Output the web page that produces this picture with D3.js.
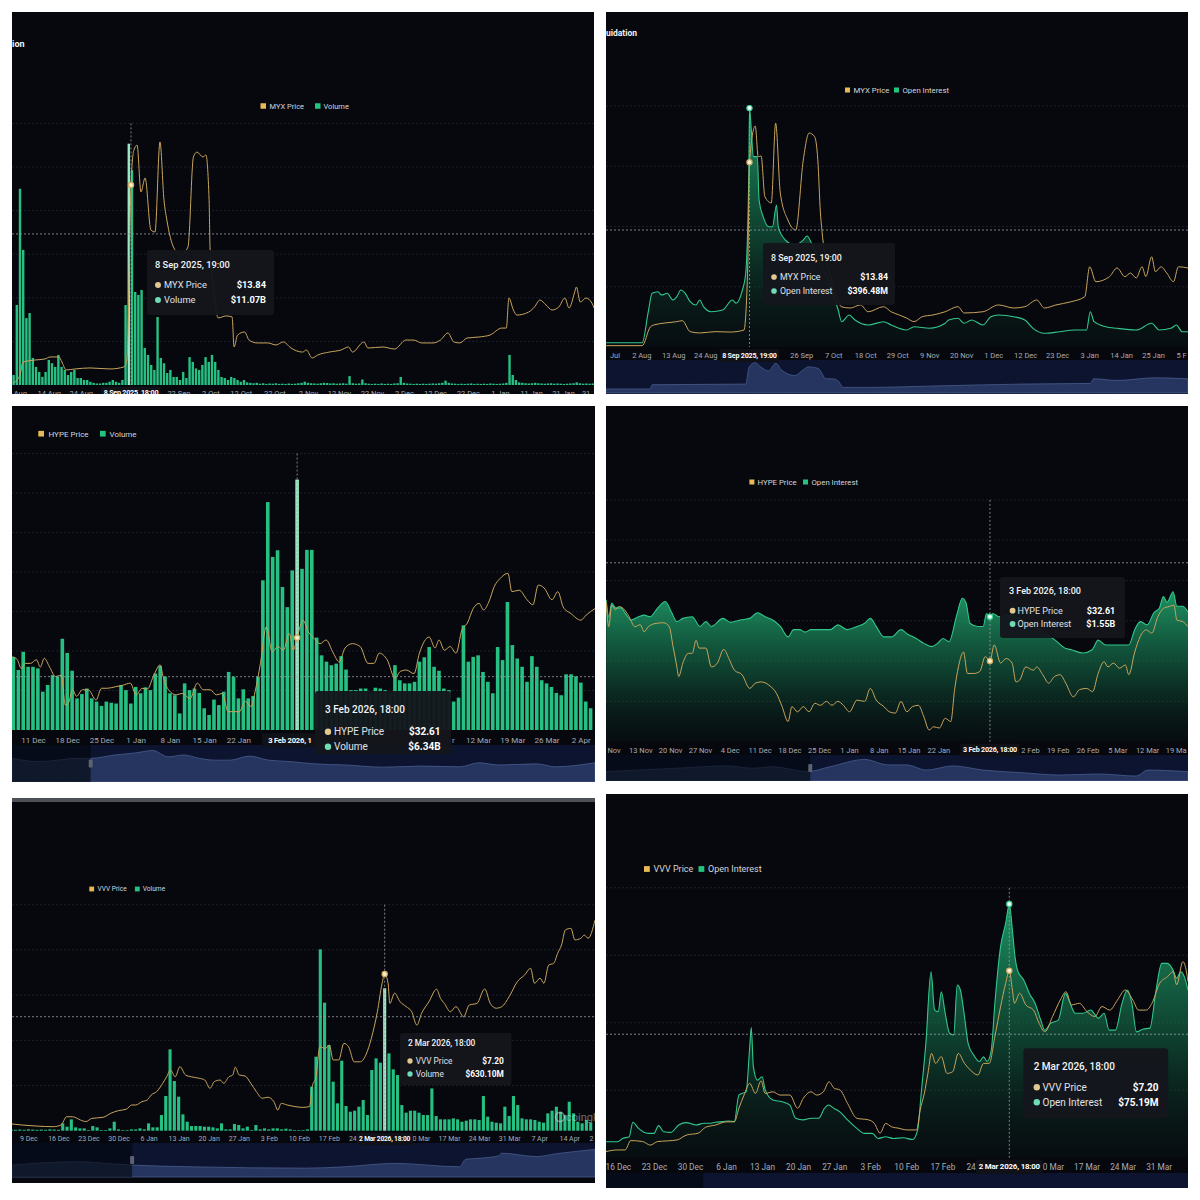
<!DOCTYPE html>
<html><head><meta charset="utf-8">
<script src="https://cdn.jsdelivr.net/npm/d3@7"></script>
<style>
html,body{margin:0;padding:0;background:#fff;}
svg{display:block;font-family:Roboto,"Noto Sans",Arial,sans-serif;}
</style></head><body>
<svg id="c" width="1200" height="1200"></svg>
<script>
// ================= DATA =================
// ---- Panel 1: MYX Price / Volume, daily bars from 3 Aug 2025 (day offset) ----
const p1Volume = [0.46,3.67,9.0,6.2,3.07,3.3,1.24,0.83,0.6,0.37,
0.6,1.15,1.0,0.83,1.38,0.83,0.69,0.46,0.6,0.69,
0.32,0.32,0.23,0.23,0.15,0.1,0.07,0.07,0.1,0.1,
0.15,0.23,0.15,0.1,0.23,3.67,11.07,9.86,4.27,4.13,
4.36,1.7,1.38,0.92,0.69,3.12,1.24,1.0,0.55,0.69,
0.37,0.37,0.23,0.6,0.32,1.28,1.06,0.76,0.69,0.92,
1.28,1.06,1.38,1.06,0.69,0.37,0.32,0.23,0.37,0.32,
0.23,0.15,0.23,0.12,0.1,0.08,0.1,0.06,0.08,0.05,
0.07,0.06,0.08,0.05,0.06,0.05,0.07,0.05,0.06,0.08,
0.1,0.15,0.1,0.08,0.07,0.06,0.08,0.1,0.09,0.07,
0.08,0.06,0.07,0.08,0.06,0.41,0.08,0.06,0.07,0.25,
0.08,0.06,0.05,0.06,0.05,0.07,0.05,0.06,0.05,0.07,
0.08,0.37,0.1,0.07,0.06,0.05,0.06,0.05,0.06,0.05,
0.06,0.07,0.06,0.08,0.1,0.2,0.1,0.07,0.06,0.05,
0.06,0.05,0.06,0.07,0.05,0.06,0.05,0.06,0.05,0.07,
0.06,0.05,0.06,0.07,0.1,1.38,0.46,0.23,0.12,0.1,
0.08,0.07,0.08,0.1,0.08,0.07,0.06,0.07,0.08,0.06,
0.07,0.06,0.05,0.06,0.07,0.08,0.12,0.08,0.06,0.07,
0.06,0.07];
const p1Price = [[0,0.14],[2.0,0.69],[2.9,1.59],[6.7,1.73],[9.8,1.80],[11.4,1.94],[14.2,1.94],[15.1,1.59],[16.4,1.04],[19.2,1.11],[23.9,1.18],[30.1,1.11],[34.5,1.25],[35.4,1.73],[36.7,13.84],[37.6,16.26],[38.6,16.6],[39.8,13.36],[41.1,14.33],[42.9,10.73],[44.2,10.59],[45.75,16.82],[47.0,12.8],[47.9,11.42],[50.1,9.48],[52.3,9.0],[54.5,9.55],[56.2,15.78],[57.3,16.12],[59.2,15.78],[60.1,15.92],[61.1,12.8],[61.4,9.48],[62.6,6.57],[63.9,4.64],[66.4,4.78],[68.3,4.71],[68.9,2.63],[70.0,3.46],[72.2,3.67],[73.6,3.11],[76.1,2.91],[79.5,2.91],[82.0,2.77],[84.3,2.98],[86.7,2.56],[90.3,2.28],[91.5,2.42],[93.3,1.87],[95.1,2.08],[98.7,2.28],[102.3,2.42],[104.7,2.63],[105.9,2.28],[109.5,2.98],[110.75,2.56],[115.4,2.63],[119.1,2.49],[122.6,3.11],[125.1,3.11],[127.5,2.91],[131.1,2.91],[133.4,3.11],[135.75,3.60],[137.6,2.98],[139.5,2.91],[141.7,3.25],[145.4,3.32],[148.9,3.46],[152.6,3.94],[154.0,3.94],[154.8,6.02],[156.2,5.19],[157.3,4.84],[161.0,5.05],[162.8,5.40],[164.5,5.88],[166.4,5.54],[168.3,5.19],[170.4,5.40],[172.3,6.02],[173.6,5.33],[175.3,6.37],[175.9,6.78],[177.1,5.74],[178.9,6.02],[180.75,5.67],[181.4,5.33]];
const p1Ticks = [[1,"4 Aug"],[11,"14 Aug"],[21,"24 Aug"],[51.5,"22 Sep"],[61.5,"2 Oct"],[71,"12 Oct"],[81.5,"22 Oct"],[92,"2 Nov"],[101.7,"12 Nov"],[112,"22 Nov"],[122,"2 Dec"],[131.7,"12 Dec"],[142,"22 Dec"],[152,"1 Jan"],[161.7,"11 Jan"],[171.7,"21 Jan"],[181,"31 Jan"]];
const p1Cursor = {day:36.7, bar:36, label:"8 Sep 2025, 18:00", y:6.93, price:13.84};
const p1Tooltip = {title:"8 Sep 2025, 19:00", rows:[["MYX Price","$13.84"],["Volume","$11.07B"]]};
const p1Legend = ["MYX Price","Volume"];

// ---- Panel 2: MYX Price / Open Interest, day offset from 21 Jul 2025 ----
const p2OI = [[-0.1,7.1],[12.3,7.1],[14.4,58.6],[15.7,89.1],[17.7,91.8],[19.0,86.3],[20.9,89.1],[22.9,78.0],[24.2,83.5],[25.6,94.6],[27.1,89.1],[28.8,75.2],[30.8,69.7],[32.1,78.0],[33.4,66.9],[36.0,58.6],[40.0,61.4],[43.3,78.0],[44.6,72.5],[46.6,91.8],[47.9,122.3],[49.0,299.3],[49.2,396.48],[49.9,355.2],[50.5,315.9],[51.9,315.9],[52.5,244.0],[53.9,216.3],[55.8,199.7],[57.1,199.7],[58.5,235.7],[59.1,199.7],[61.5,177.6],[64.9,169.3],[67.7,177.6],[69.0,184.2],[70.8,169.3],[73.5,141.1],[77.0,102.9],[79.7,61.4],[80.9,42.0],[83.5,53.1],[85.5,44.8],[90.0,36.5],[95.3,42.0],[97.9,36.5],[103.2,28.2],[105.8,33.7],[111.1,31.0],[116.5,39.3],[117.7,44.8],[120.9,47.6],[123.0,39.3],[125.6,44.8],[129.5,36.5],[132.2,50.3],[134.8,53.1],[140.1,50.3],[143.9,44.8],[146.7,31.0],[150.6,22.7],[155.9,25.4],[161.1,28.2],[165.1,28.2],[166.4,58.6],[167.7,42.0],[171.7,33.7],[175.6,31.0],[182.2,28.2],[187.5,39.3],[190.1,28.2],[194.1,31.0],[196.0,36.5],[198.0,25.4],[200.0,25.4]];
const p2Price = [[-0.1,0.1],[12.3,0.1],[15.1,1.50],[16.3,1.65],[24.2,1.90],[26.1,1.97],[28.8,1.15],[32.1,1.05],[37.4,1.15],[42.6,1.12],[47.3,1.27],[48.6,6.01],[49.2,13.84],[51.2,16.55],[52.2,14.25],[53.2,14.31],[54.5,11.26],[56.7,10.79],[58.2,16.76],[59.8,11.54],[62.4,9.51],[65.1,8.76],[67.7,14.01],[69.7,16.03],[71.6,15.75],[72.7,14.01],[73.6,10.04],[74.2,8.54],[76.9,5.39],[79.7,3.52],[80.7,3.02],[83.8,2.92],[87.4,3.15],[90.0,2.64],[95.3,3.02],[97.9,2.64],[100.7,2.40],[103.2,2.17],[105.8,1.90],[108.6,2.27],[112.3,2.40],[116.5,2.64],[120.9,3.02],[123.0,2.55],[129.5,2.64],[134.8,3.15],[140.1,2.92],[143.9,3.02],[148.0,3.52],[150.6,2.92],[154.6,3.15],[159.8,3.39],[164.5,3.77],[166.2,6.01],[168.3,4.89],[173.0,5.27],[175.6,5.92],[178.3,5.27],[180.2,5.54],[182.2,5.17],[184.2,6.01],[185.5,5.27],[187.5,6.76],[188.8,5.64],[190.7,6.01],[192.7,5.54],[195.0,4.89],[196.7,6.01],[200.0,5.92]];
const p2Ticks = [[1,"22 Jul"],[12,"2 Aug"],[23,"13 Aug"],[34,"24 Aug"],[45,"4 Sep"],[56,"15 Sep"],[67,"26 Sep"],[78,"7 Oct"],[89,"18 Oct"],[100,"29 Oct"],[111,"9 Nov"],[122,"20 Nov"],[133,"1 Dec"],[144,"12 Dec"],[155,"23 Dec"],[166,"3 Jan"],[177,"14 Jan"],[188,"25 Jan"],[199,"5 Feb"]];
const p2Nav = [[0,0.12],[0.076,0.12],[0.079,0.25],[0.24,0.27],[0.246,0.79],[0.256,0.92],[0.266,0.79],[0.279,0.67],[0.292,0.90],[0.302,0.69],[0.325,0.53],[0.338,0.69],[0.348,0.79],[0.365,0.74],[0.378,0.43],[0.388,0.43],[0.398,0.38],[0.408,0.17],[0.45,0.17],[0.582,0.22],[0.714,0.27],[0.832,0.29],[0.838,0.43],[0.878,0.38],[0.943,0.46],[1,0.43]];
const p2Cursor = {day:49.2, label:"8 Sep 2025, 19:00", y:194.2, price:13.84, oi:396.48};
const p2Tooltip = {title:"8 Sep 2025, 19:00", rows:[["MYX Price","$13.84"],["Open Interest","$396.48M"]]};
const p2Legend = ["MYX Price","Open Interest"];

// ---- Panel 3: HYPE Price / Volume, daily bars from 7 Dec 2025 ----
const p3Volume = [1.85,1.52,1.98,1.60,1.60,1.56,0.97,1.14,1.39,1.36,
2.31,1.95,1.50,0.80,0.91,1.05,0.80,0.72,0.61,0.72,
0.69,0.67,1.14,1.01,0.67,1.09,0.93,1.08,1.01,1.43,
1.62,1.35,0.93,0.88,0.42,1.18,1.01,1.05,0.94,0.55,
0.38,0.77,0.63,0.97,1.47,1.35,0.80,1.03,0.80,0.86,
1.35,3.79,5.77,4.38,4.55,3.62,3.11,4.04,6.34,4.08,
4.56,4.56,2.34,1.89,1.73,1.64,1.68,1.87,1.53,1.01,
1.01,1.05,1.05,0.93,1.07,1.05,1.01,0.95,1.64,1.26,
1.18,1.18,1.22,1.73,1.84,2.10,1.60,1.50,1.05,1.01,
0.72,0.82,2.65,1.73,1.85,1.89,1.47,1.22,0.93,2.10,
1.77,3.24,2.15,1.81,1.60,1.22,1.87,1.60,1.26,1.18,
1.09,0.94,0.88,1.41,1.41,1.36,1.20,0.72,0.55];
const p3Price = [[-0.2,30.0],[0.8,29.6],[1.6,28.4],[2.4,29.1],[3.5,29.1],[4.7,29.6],[5.5,28.6],[6.3,29.8],[7.4,28.6],[8.6,27.3],[9.8,27.5],[10.6,23.4],[11.2,23.6],[12.1,25.5],[12.9,24.6],[14.1,25.5],[15.3,25.5],[16.9,24.1],[18.0,25.7],[19.2,25.7],[20.8,25.9],[22.3,26.1],[23.9,26.4],[25.1,24.8],[26.3,25.7],[27.4,25.6],[28.6,27.3],[30.0,28.9],[30.6,27.3],[31.7,25.5],[33.3,24.8],[34.5,25.0],[36.1,24.3],[37.6,26.4],[38.8,25.5],[40.2,25.5],[41.5,24.8],[42.7,25.0],[43.9,22.5],[45.1,22.5],[46.2,22.5],[47.4,23.9],[48.6,23.2],[49.4,25.2],[50.5,29.1],[51.7,34.1],[52.9,30.7],[54.1,31.4],[55.2,30.9],[56.4,33.2],[57.2,30.9],[58,32.61],[59.2,35.0],[60.3,33.4],[61.5,32.5],[62.7,31.8],[63.9,32.3],[65.4,30.5],[66.6,29.3],[67.8,31.2],[69.3,31.8],[70.9,31.4],[72.5,29.1],[73.7,29.1],[74.8,30.5],[76.4,29.6],[78.0,27.1],[79.1,28.0],[80.3,28.2],[81.9,27.7],[83.0,30.5],[85.0,32.7],[86.2,31.2],[87.0,32.3],[88.1,30.9],[89.3,31.4],[90.5,30.5],[91.7,33.7],[92.8,34.6],[94.0,36.6],[95.2,37.3],[96.1,36.4],[97.2,37.5],[98.3,39.6],[99.5,40.7],[101.1,41.4],[101.9,38.9],[103.4,39.1],[105.0,37.8],[106.2,37.1],[107.3,39.8],[108.5,39.4],[110.1,37.8],[111.3,38.9],[112.4,36.8],[114.0,35.9],[116.0,35.0],[117.1,35.7],[118.9,36.6]];
const p3Ticks = [[4,"11 Dec"],[11,"18 Dec"],[18,"25 Dec"],[25,"1 Jan"],[32,"8 Jan"],[39,"15 Jan"],[46,"22 Jan"],[53,"29 Jan"],[60,"5 Feb"],[67,"12 Feb"],[74,"19 Feb"],[81,"26 Feb"],[88,"5 Mar"],[95,"12 Mar"],[102,"19 Mar"],[109,"26 Mar"],[116,"2 Apr"]];
const p3Nav = [[0,0.64],[0.045,0.55],[0.078,0.59],[0.11,0.64],[0.135,0.64],[0.177,0.73],[0.209,0.78],[0.242,0.85],[0.268,0.68],[0.295,0.73],[0.321,0.64],[0.348,0.59],[0.374,0.59],[0.407,0.70],[0.44,0.59],[0.479,0.55],[0.518,0.49],[0.571,0.46],[0.637,0.40],[0.702,0.43],[0.768,0.41],[0.801,0.52],[0.834,0.46],[0.9,0.49],[0.932,0.41],[1,0.52]];
const p3Cursor = {day:58, bar:58, label:"3 Feb 2026, 18:00", y:1.35, price:32.61};
const p3Tooltip = {title:"3 Feb 2026, 18:00", rows:[["HYPE Price","$32.61"],["Volume","$6.34B"]]};
const p3Legend = ["HYPE Price","Volume"];

// ---- Panel 4: HYPE Price / Open Interest, day offset from 5 Nov 2025 ----
const p4OI = [[0.0,1.76],[0.6,1.55],[1.3,1.72],[2.2,1.66],[3.5,1.66],[4.5,1.59],[5.8,1.51],[7.6,1.55],[8.9,1.57],[10.3,1.55],[12.1,1.66],[13.9,1.74],[15.3,1.61],[16.6,1.49],[18.0,1.53],[20.2,1.55],[22.0,1.43],[23.4,1.49],[24.7,1.43],[27.4,1.53],[29.2,1.48],[31.4,1.51],[33.7,1.53],[35.5,1.60],[37.3,1.55],[39.1,1.51],[40.9,1.43],[42.7,1.30],[44.0,1.39],[45.4,1.39],[46.7,1.36],[48.1,1.39],[50.3,1.39],[52.6,1.39],[54.4,1.45],[56.6,1.39],[58.9,1.43],[60.7,1.47],[62.0,1.53],[63.4,1.43],[65.2,1.30],[67.0,1.30],[69.2,1.39],[70.6,1.34],[72.8,1.28],[74.6,1.22],[76.4,1.18],[77.8,1.22],[79.1,1.28],[80.5,1.24],[82.3,1.57],[83.6,1.78],[84.5,1.72],[85.4,1.47],[87.2,1.43],[88.5,1.43],[89.3,1.59],[90.1,1.55],[90.8,1.59],[92.2,1.55],[94.9,1.57],[98.4,1.49],[101.9,1.39],[105.4,1.26],[107.8,1.16],[109.2,1.14],[112.0,1.10],[114.1,1.14],[115.5,1.26],[117.3,1.20],[120.0,1.20],[122.7,1.20],[124.1,1.39],[125.4,1.49],[127.0,1.45],[128.6,1.60],[129.9,1.66],[130.8,1.80],[131.7,1.73],[133.1,1.86],[134.0,1.68],[135.3,1.68],[136.6,1.61]];
const p4Price = [[0.0,41.7],[0.6,37.9],[1.3,41.2],[2.2,40.5],[2.9,41.0],[4.0,40.7],[5.4,39.4],[6.7,37.9],[8.0,38.2],[8.9,37.1],[9.9,37.9],[11.7,38.4],[13.5,38.5],[14.8,37.9],[15.7,34.8],[16.6,31.7],[17.0,30.2],[18.0,32.3],[19.3,33.8],[20.2,33.8],[21.1,35.8],[21.8,34.6],[23.4,34.6],[24.7,31.7],[26.1,32.3],[27.6,34.4],[28.8,33.0],[30.1,31.2],[31.9,30.5],[33.7,28.4],[35.0,29.2],[36.4,29.4],[38.2,28.9],[40.0,27.6],[41.3,25.6],[42.7,23.3],[43.6,25.6],[44.9,24.8],[46.3,25.6],[47.6,24.8],[49.0,26.1],[50.3,25.8],[51.7,26.4],[53.0,25.8],[54.4,26.4],[55.7,25.8],[57.1,24.8],[58.9,26.6],[60.7,26.4],[62.0,28.4],[63.4,26.6],[65.2,25.6],[66.5,24.8],[67.9,24.6],[69.2,26.4],[70.6,24.8],[71.9,25.6],[73.3,25.8],[74.6,24.0],[75.8,22.0],[76.9,22.5],[78.2,22.3],[79.6,23.8],[80.9,23.3],[81.8,28.2],[82.7,31.7],[83.9,34.0],[84.8,30.7],[86.3,30.7],[87.7,31.0],[89.0,33.3],[90.1,32.61],[91.1,35.1],[92.6,32.3],[93.9,33.0],[95.3,32.3],[96.2,29.4],[97.1,29.7],[98.5,31.7],[100.3,31.2],[101.1,31.7],[102.5,30.5],[103.9,29.2],[105.2,30.2],[106.6,30.5],[107.9,29.2],[109.7,27.1],[111.1,28.2],[112.8,28.4],[114.2,27.9],[115.5,30.7],[116.9,32.5],[117.8,31.7],[119.1,32.3],[120.5,31.5],[121.9,32.0],[122.7,30.5],[124.1,34.0],[125.4,36.4],[126.8,37.4],[128.1,36.9],[129.5,39.4],[130.8,40.7],[132.2,41.0],[133.3,41.2],[134.0,38.9],[135.3,38.7],[136.6,37.9]];
const p4Ticks = [[1,"6 Nov"],[8,"13 Nov"],[15,"20 Nov"],[22,"27 Nov"],[29,"4 Dec"],[36,"11 Dec"],[43,"18 Dec"],[50,"25 Dec"],[57,"1 Jan"],[64,"8 Jan"],[71,"15 Jan"],[78,"22 Jan"],[85,"29 Jan"],[92,"5 Feb"],[99,"12 Feb"],[106,"19 Feb"],[113,"26 Feb"],[120,"5 Mar"],[127,"12 Mar"],[134,"19 Mar"]];
const p4Nav = [[0,0.36],[0.056,0.42],[0.122,0.49],[0.207,0.58],[0.253,0.49],[0.286,0.55],[0.346,0.36],[0.385,0.55],[0.445,0.83],[0.484,0.62],[0.517,0.62],[0.55,0.42],[0.596,0.58],[0.648,0.42],[0.714,0.32],[0.78,0.23],[0.846,0.27],[0.911,0.19],[0.931,0.42],[0.963,0.40],[1,0.36]];
const p4Cursor = {day:90.1, label:"3 Feb 2026, 18:00", y:2.22, price:32.61, oi:1.55};
const p4Tooltip = {title:"3 Feb 2026, 18:00", rows:[["HYPE Price","$32.61"],["Open Interest","$1.55B"]]};
const p4Legend = ["HYPE Price","Open Interest"];

// ---- Panel 5: VVV Price / Volume, daily bars from 5 Dec 2025 ($M) ----
const p5Volume = [5,4,5,4,6,5,4,5,4,6,
5,4,32.5,17.7,50.2,14.8,10.3,10.3,3,20.7,
14.8,3,3,10.3,39.8,5.9,3,3,5.9,5.9,
10.3,5.9,32.5,14.8,14.8,69.3,153.4,359.9,219.8,150.5,
72.3,39.8,20.7,20.7,20.7,17.7,17.7,14.8,10.3,32.5,
5.9,5.9,29.5,25.1,10.3,17.7,3,25.1,5.9,10.3,
5.9,10.3,10.3,5.9,8.9,5.9,3,3,3,5.9,
194.7,327.5,802.4,566.4,379.1,216.8,121.0,309.8,109.2,84.1,
88.5,106.2,135.7,69.3,268.5,320.1,300.9,630.1,342.2,271.4,
246.3,113.6,79.7,88.5,88.5,79.7,69.3,69.3,187.3,64.9,
50.2,50.2,50.2,54.6,50.2,39.8,44.3,50.2,50.2,47.2,
153.4,62,39.8,35.4,32.5,106.2,64.9,153.4,113.6,54.6,
50.2,50.2,47.2,39.8,35.4,76.7,88.5,106.2,84.1,69.3,
128.3,76.7,39.8,32.5,47.2,35.4];
const p5Price = [[0.2,1.60],[2.7,1.56],[6.2,1.52],[9.8,1.50],[11.6,1.56],[12.9,1.87],[14.3,1.87],[16.1,1.75],[17.4,1.69],[18.8,1.81],[21.4,1.85],[23.2,2.00],[25.0,2.10],[26.8,2.15],[28.1,2.31],[29.0,2.31],[30.4,2.43],[31.7,2.50],[32.6,2.68],[33.9,2.81],[35.3,3.12],[36.2,3.36],[37.1,3.61],[38.2,3.36],[39.3,3.74],[40.6,3.43],[42.0,3.36],[43.7,3.31],[45.1,3.24],[46.3,2.93],[47.3,3.18],[48.7,3.24],[49.5,3.12],[50.7,3.36],[51.6,3.43],[52.2,3.72],[53.1,3.43],[54.5,3.39],[55.8,3.12],[57.1,2.81],[58.5,2.56],[59.8,2.60],[61.2,2.43],[62.1,2.12],[62.9,2.37],[64.3,2.31],[66.1,2.25],[67.9,2.22],[69.5,2.25],[70.1,2.99],[71.0,3.36],[71.9,4.48],[73.2,4.42],[74.1,4.55],[75.0,3.99],[76.3,3.99],[77.5,4.61],[78.6,4.48],[79.9,3.92],[81.3,3.92],[82.6,4.17],[83.9,4.80],[85.3,5.79],[86.4,6.85],[87,7.20],[87.8,6.85],[88.2,6.10],[89.3,6.48],[90.6,6.16],[92.0,5.98],[93.3,5.79],[94.5,5.29],[95.6,5.73],[97.3,6.16],[99.1,6.63],[100.0,6.29],[100.9,6.10],[102.3,5.79],[103.6,5.98],[105.4,5.60],[106.7,6.04],[108.5,6.10],[110.3,6.64],[111.6,6.10],[113.0,5.92],[114.3,5.98],[116.0,6.35],[117.9,6.91],[119.6,7.16],[121.0,7.41],[121.9,6.85],[123.2,7.04],[124.1,6.85],[125.2,7.53],[126.4,7.60],[127.3,7.97],[128.2,8.28],[129.1,8.84],[130.4,8.90],[131.3,8.47],[132.7,8.53],[133.5,8.65],[134.4,8.53],[136.0,9.21]];
const p5Ticks = [[4,"9 Dec"],[11,"16 Dec"],[18,"23 Dec"],[25,"30 Dec"],[32,"6 Jan"],[39,"13 Jan"],[46,"20 Jan"],[53,"27 Jan"],[60,"3 Feb"],[67,"10 Feb"],[74,"17 Feb"],[81,"24 Feb"],[88,"3 Mar"],[95,"10 Mar"],[102,"17 Mar"],[109,"24 Mar"],[116,"31 Mar"],[123,"7 Apr"],[130,"14 Apr"],[137,"21 Apr"]];
const p5Nav = [[0,0.35],[0.11,0.45],[0.177,0.38],[0.206,0.35],[0.308,0.30],[0.505,0.26],[0.571,0.30],[0.656,0.40],[0.768,0.30],[0.778,0.52],[0.801,0.55],[0.834,0.62],[0.84,0.70],[0.9,0.60],[0.932,0.68],[1,0.81]];
const p5Cursor = {day:87, bar:87, label:"2 Mar 2026, 18:00", y:504.4, price:7.20};
const p5Tooltip = {title:"2 Mar 2026, 18:00", rows:[["VVV Price","$7.20"],["Volume","$630.10M"]]};
const p5Legend = ["VVV Price","Volume"];

// ---- Panel 6: VVV Price / Open Interest, day offset from 13 Dec 2025 ($M) ----
const p6OI = [[0.7,4.74],[2.9,4.74],[4.0,5.75],[5.2,6.22],[5.9,10.5],[7.0,8.7],[8.9,7.2],[10.0,7.2],[10.9,9.5],[11.9,7.7],[13.3,7.5],[14.8,9.7],[16.3,10.4],[18.2,9.7],[19.7,10.2],[20.8,10.2],[21.9,10.5],[23.4,10.7],[24.5,10.9],[25.6,10.7],[26.5,18.6],[27.9,19.6],[28.6,32.9],[28.9,38.6],[29.3,27.0],[30.1,23.0],[31.0,24.0],[31.6,20.1],[33.1,17.1],[34.9,16.6],[36.4,15.6],[37.5,11.7],[39.0,11.2],[40.5,11.7],[42.0,11.7],[43.1,14.6],[43.9,15.6],[45.0,14.6],[46.1,13.6],[47.6,11.2],[49.4,8.7],[50.9,7.2],[52.4,7.2],[53.5,5.7],[55.0,6.2],[56.5,5.7],[58.4,5.9],[60.2,5.4],[61.2,8.2],[61.9,19.1],[62.8,33.9],[63.8,55.1],[64.5,43.8],[65.2,43.3],[65.8,49.2],[66.5,43.3],[67.4,36.9],[68.2,36.4],[68.9,51.2],[69.5,49.7],[70.3,41.8],[71.0,33.9],[72.1,30.4],[73.2,28.5],[74.0,29.9],[74.7,28.5],[75.5,31.9],[76.2,45.8],[77.3,62.5],[78.3,69.5],[79,75.19],[79.6,67.5],[80.1,59.6],[80.7,55.1],[81.8,52.7],[82.9,48.7],[84.0,45.8],[85.1,40.8],[85.9,37.8],[87.0,39.8],[88.5,40.8],[89.9,48.7],[90.7,46.2],[91.8,42.8],[93.3,42.8],[94.8,43.8],[96.3,41.3],[97.4,42.8],[98.4,37.8],[99.6,37.8],[100.9,45.8],[101.9,49.7],[102.8,45.8],[103.7,37.3],[104.9,38.1],[106.3,38.4],[107.5,49.7],[108.6,57.6],[109.7,57.6],[110.8,55.6],[111.5,53.2],[112.3,55.1],[113.0,53.6],[113.7,49.7]];
const p6Price = [[0.7,1.60],[2.9,1.65],[4.4,1.65],[5.5,1.94],[7.8,1.91],[9.3,1.80],[10.7,1.91],[12.6,1.93],[14.5,1.96],[16.3,2.11],[18.6,2.17],[20.0,2.35],[21.9,2.42],[24.1,2.52],[25.6,2.52],[26.5,2.94],[27.5,3.35],[28.6,3.71],[29.7,3.40],[30.8,3.79],[31.6,3.40],[33.1,3.45],[34.5,3.35],[36.4,3.35],[37.9,2.94],[39.0,3.25],[40.5,3.45],[41.6,3.35],[42.9,3.45],[44.0,3.76],[45.0,3.56],[46.1,3.51],[47.6,3.09],[49.4,2.63],[51.7,2.58],[52.8,2.47],[53.9,2.17],[55.0,2.47],[56.1,2.37],[57.6,2.32],[59.1,2.27],[61.0,2.27],[61.7,2.89],[62.5,3.40],[63.2,4.02],[63.9,4.64],[64.7,4.33],[65.8,4.54],[66.9,4.02],[68.0,4.07],[69.1,4.64],[70.3,4.33],[71.4,4.13],[72.9,3.97],[74.0,4.33],[75.1,4.33],[76.2,5.16],[77.3,6.08],[78.3,6.81],[79,7.20],[79.6,6.60],[80.0,6.19],[81.0,6.50],[82.2,6.14],[83.7,5.98],[84.8,5.57],[85.9,5.31],[87.4,5.78],[88.9,6.29],[90.0,6.55],[91.1,6.14],[92.6,6.19],[94.1,5.93],[95.6,5.78],[97.0,6.09],[98.5,5.98],[100.0,6.29],[101.5,6.60],[103.0,6.29],[104.1,5.98],[105.6,5.98],[106.7,6.19],[108.2,6.81],[109.7,7.01],[110.8,7.17],[111.5,6.76],[112.7,7.48],[113.4,7.17],[113.7,6.86]];
const p6Ticks = [[3,"16 Dec"],[10,"23 Dec"],[17,"30 Dec"],[24,"6 Jan"],[31,"13 Jan"],[38,"20 Jan"],[45,"27 Jan"],[52,"3 Feb"],[59,"10 Feb"],[66,"17 Feb"],[73,"24 Feb"],[80,"3 Mar"],[87,"10 Mar"],[94,"17 Mar"],[101,"24 Mar"],[108,"31 Mar"],[115,"7 Apr"]];
const p6Cursor = {day:79, label:"2 Mar 2026, 18:00", y:36.6, price:7.20, oi:75.19};
const p6Tooltip = {title:"2 Mar 2026, 18:00", rows:[["VVV Price","$7.20"],["Open Interest","$75.19M"]]};
const p6Legend = ["VVV Price","Open Interest"];

// ================= STYLE / LAYOUT =================
const BG = "#06080e", GRID = "#222632", AXIS = "#a7acb6", GREEN = "#27c083", GOLD = "#c9a45c";
const svg = d3.select("#c");
const defs = svg.append("defs");

// Trim a text element to the part that is not hidden behind obstacles (x-intervals in page coords).
function fitText(node, obst, offset) {
  const t = d3.select(node);
  const str = t.text();
  const n = str.length;
  const bb = node.getBBox();
  const L0 = bb.x + offset;
  const pos = [0];
  for (let k = 1; k <= n; k++) pos.push(node.getSubStringLength(0, k));
  let lo = L0, hi = L0 + pos[n];
  for (const [a, b] of obst) {
    if (b <= lo || a >= hi) continue;
    if (a <= lo && b >= hi) { t.remove(); return; }
    if (a > lo && b >= hi) hi = a;
    else if (a <= lo && b < hi) lo = b;
    else { if (a - lo > hi - b) hi = a; else lo = b; }
  }
  let first = -1, last = -1;
  for (let k = 0; k < n; k++) {
    const s = L0 + pos[k], e = L0 + pos[k + 1];
    if (s >= lo - 0.8 && e <= hi + 0.8) { if (first < 0) first = k; last = k; }
  }
  if (first < 0) { t.remove(); return; }
  if (first === 0 && last === n - 1) return;
  const sub = str.slice(first, last + 1);
  if (!sub.trim()) { t.remove(); return; }
  const lead = sub.length - sub.trimStart().length;
  t.text(sub.trim()).attr("text-anchor", "start").attr("x", L0 + pos[first + lead] - offset);
}

function drawPanel(L, D) {
  const clipId = "clip" + L.id;
  defs.append("clipPath").attr("id", clipId).append("rect")
    .attr("x", L.x0).attr("y", L.y0).attr("width", L.x1 - L.x0).attr("height", L.y1 - L.y0);
  const g = svg.append("g").attr("clip-path", `url(#${clipId})`);
  g.append("rect").attr("x", L.x0).attr("y", L.y0).attr("width", L.x1 - L.x0).attr("height", L.y1 - L.y0).attr("fill", BG);
  if (L.stripe) g.append("rect").attr("x", L.x0).attr("y", L.y0).attr("width", L.x1 - L.x0).attr("height", 4).attr("fill", "#4d5057");

  const x = d3.scaleLinear().domain(L.xDomain).range([L.x0, L.x1]);
  const y = d3.scaleLinear().domain(L.yDomain).range([L.base, L.yTop]);
  const yp = d3.scaleLinear().domain(L.pDomain).range([L.base, L.pTop]);
  const edges = [[-1e4, L.x0], [L.x1, 1e4]];

  if (L.title) g.append("text").attr("x", L.title.x).attr("y", L.title.y).attr("dy", "0.35em")
    .attr("fill", "#f2f3f5").attr("font-weight", 700).attr("font-size", L.title.fs).text(L.title.text);

  // grid
  g.append("g").selectAll("line").data(y.ticks(L.gridN).filter(v => v > 0)).join("line")
    .attr("x1", L.x0).attr("x2", L.x1).attr("y1", d => y(d)).attr("y2", d => y(d))
    .attr("stroke", GRID).attr("stroke-width", 0.8).attr("stroke-dasharray", "2,2");

  // legend
  const lg = g.append("g");
  D.legend.forEach((name, i) => {
    const [sx, tx] = L.legend.pos[i];
    lg.append("rect").attr("x", sx).attr("y", L.legend.y - L.legend.sq / 2).attr("width", L.legend.sq).attr("height", L.legend.sq)
      .attr("fill", i === 0 ? "#e8b954" : "#22c47f");
    lg.append("text").attr("x", tx).attr("y", L.legend.y).attr("dy", "0.35em").attr("font-size", L.legend.fs)
      .attr("fill", "#d3d6dc").text(name);
  });

  // navigator
  if (L.nav) {
    const nx = d3.scaleLinear().domain([0, 1]).range([L.x0, L.x1]);
    const ny = d3.scaleLinear().domain([0, 1]).range([L.nav.y1, L.nav.y0]);
    g.append("rect").attr("x", L.x0).attr("y", L.nav.y0).attr("width", L.x1 - L.x0).attr("height", L.nav.y1 - L.nav.y0).attr("fill", "#0c1430");
    if (D.nav) {
      g.append("path").datum(D.nav).attr("fill", "#25355f").attr("stroke", "#4a5c8e").attr("stroke-width", 0.8)
        .attr("d", d3.area().x(d => nx(d[0])).y0(L.nav.y1).y1(d => ny(d[1])).curve(d3.curveMonotoneX));
    }
    if (L.nav.sel > 0) {
      g.append("rect").attr("x", L.x0).attr("y", L.nav.y0).attr("width", nx(L.nav.sel) - L.x0).attr("height", L.nav.y1 - L.nav.y0)
        .attr("fill", "#04060b").attr("fill-opacity", 0.62);
      if (!L.nav.noHandle) g.append("rect").attr("x", nx(L.nav.sel) - 2).attr("y", (L.nav.y0 + L.nav.y1) / 2 - 4).attr("width", 4).attr("height", 8)
        .attr("rx", 1).attr("fill", "#5b6272");
    }
  }

  // OI area
  if (D.oi) {
    const gid = "grad" + L.id;
    const gr = defs.append("linearGradient").attr("id", gid).attr("gradientUnits", "userSpaceOnUse")
      .attr("x1", 0).attr("x2", 0).attr("y1", L.gradTop).attr("y2", L.base);
    gr.append("stop").attr("offset", 0).attr("stop-color", "#22ab72").attr("stop-opacity", 0.85);
    gr.append("stop").attr("offset", 0.55).attr("stop-color", "#188456").attr("stop-opacity", 0.42);
    gr.append("stop").attr("offset", 1).attr("stop-color", "#0c2a1e").attr("stop-opacity", 0.15);
    g.append("path").datum(D.oi).attr("fill", `url(#${gid})`)
      .attr("d", d3.area().x(d => x(d[0])).y0(L.base).y1(d => y(d[1])).curve(d3.curveMonotoneX));
    g.append("path").datum(D.oi).attr("fill", "none").attr("stroke", "#31c78c").attr("stroke-width", 1.1)
      .attr("d", d3.line().x(d => x(d[0])).y(d => y(d[1])).curve(d3.curveMonotoneX));
  }

  // bars
  if (D.bars) {
    g.append("g").selectAll("rect").data(D.bars).join("rect")
      .attr("x", (d, i) => x(i) - L.barW / 2).attr("y", d => y(d))
      .attr("width", L.barW).attr("height", d => Math.max(0.6, L.base - y(d)))
      .attr("fill", (d, i) => i === D.cursor.bar ? "#9be9c4" : GREEN);
  }

  // price line
  g.append("path").datum(D.price).attr("fill", "none").attr("stroke", GOLD).attr("stroke-width", 1)
    .attr("d", d3.line().x(d => x(d[0])).y(d => yp(d[1])).curve(d3.curveMonotoneX));

  // crosshair
  const cx = x(D.cursor.day);
  g.append("line").attr("x1", cx).attr("x2", cx).attr("y1", L.yTop).attr("y2", L.base)
    .attr("stroke", "#9a9ea8").attr("stroke-width", 0.8).attr("stroke-dasharray", "2,2");
  g.append("line").attr("x1", L.x0).attr("x2", L.x1).attr("y1", y(D.cursor.y)).attr("y2", y(D.cursor.y))
    .attr("stroke", "#9a9ea8").attr("stroke-width", 0.8).attr("stroke-dasharray", "2,2");

  // axis
  const ax = d3.axisBottom(x).tickValues(D.ticks.map(t => t[0])).tickFormat((v, i) => D.ticks[i][1]).tickSize(0).tickPadding(0);
  const axg = g.append("g").attr("transform", `translate(0,${L.tickY})`).call(ax);
  axg.select(".domain").remove();
  axg.attr("font-family", null).attr("font-size", null);
  axg.selectAll("text").attr("fill", AXIS).attr("font-size", L.fs).attr("dy", "0.35em");

  // highlighted axis label
  const hl = g.append("g");
  const ht = hl.append("text").attr("x", cx).attr("y", L.tickY).attr("dy", "0.35em").attr("text-anchor", "middle")
    .attr("font-weight", 700).attr("fill", "#ffffff").attr("font-size", L.fs * 0.95).attr("letter-spacing", -0.2).text(D.cursor.label);
  const hw = ht.node().getComputedTextLength();
  const pad = L.hlPad || 2.5;
  const hbox = [cx - hw / 2 - pad, cx + hw / 2 + 2.5];
  hl.insert("rect", "text").attr("x", hbox[0]).attr("y", L.tickY - L.fs * 0.85).attr("width", hbox[1] - hbox[0]).attr("height", L.fs * 1.7)
    .attr("fill", "#101217");

  const T = L.tip;
  const tipCoversAxis = T.y < L.tickY && T.y + T.h > L.tickY;
  const tickObst = edges.concat([hbox]);
  if (tipCoversAxis) tickObst.push([T.x, T.x + T.w]);
  axg.selectAll(".tick").each(function () {
    const tx = +d3.select(this).attr("transform").match(/translate\(([-\d.e]+)/)[1];
    fitText(d3.select(this).select("text").node(), tickObst, tx);
  });
  fitText(ht.node(), tipCoversAxis ? edges.concat([[T.x, T.x + T.w]]) : edges, 0);

  // hover dots
  if (D.cursor.oi !== undefined)
    g.append("circle").attr("cx", cx).attr("cy", y(D.cursor.oi)).attr("r", 2.6).attr("fill", "#e9fff6").attr("stroke", "#3fd39a").attr("stroke-width", 1.2);
  g.append("circle").attr("cx", cx).attr("cy", yp(D.cursor.price)).attr("r", 2.6).attr("fill", "#fbf0cf").attr("stroke", "#d2ac5f").attr("stroke-width", 1.2);

  // tooltip
  const tg = g.append("g");
  tg.append("rect").attr("x", T.x).attr("y", T.y).attr("width", T.w).attr("height", T.h).attr("rx", 3)
    .attr("fill", "#14161c").attr("fill-opacity", 0.96);
  tg.append("text").attr("x", T.tx).attr("y", T.ty).attr("dy", "0.35em").attr("font-size", T.fs).attr("font-weight", 500)
    .attr("fill", "#f4f5f7").text(D.tooltip.title);
  D.tooltip.rows.forEach((r, i) => {
    tg.append("circle").attr("cx", T.dx).attr("cy", T.rows[i]).attr("r", T.fs * 0.32).attr("fill", i === 0 ? "#e2c78f" : "#6fdcb5");
    tg.append("text").attr("x", T.lx).attr("y", T.rows[i]).attr("dy", "0.35em").attr("font-size", T.fs).attr("fill", "#e0e2e6").text(r[0]);
    tg.append("text").attr("x", T.vx).attr("y", T.rows[i]).attr("dy", "0.35em").attr("text-anchor", "end").attr("font-size", T.fs)
      .attr("font-weight", 700).attr("fill", "#ffffff").text(r[1]);
  });

  if (L.watermark) {
    g.append("circle").attr("cx", L.watermark.x - 6).attr("cy", L.watermark.y).attr("r", 4.5).attr("fill", "none")
      .attr("stroke", "#d8d8d8").attr("stroke-opacity", 0.5).attr("stroke-width", 1.5);
    const wt = g.append("text").attr("x", L.watermark.x).attr("y", L.watermark.y).attr("dy", "0.35em").attr("font-size", 11)
      .attr("fill", "#d8d8d8").attr("fill-opacity", 0.5).text("coinglass");
    fitText(wt.node(), edges, 0);
  }
}

drawPanel({id:1, x0:12, x1:594, y0:12, y1:394, base:385, yTop:123.4, yDomain:[0,12], gridN:6,
  xDomain:[-0.5,181.4], pDomain:[0,10], pTop:240.5, barW:2.4, tickY:393, fs:7.5,
  title:{text:"ion", x:12, y:44, fs:9},
  legend:{y:106, fs:7.5, sq:5.5, pos:[[260.5,269.5],[315,323.5]]},
  tip:{x:147, y:250, w:127, h:65, tx:155, ty:265, rows:[285,300], dx:158, lx:164, vx:266, fs:9.3}},
  {bars:p1Volume, price:p1Price, ticks:p1Ticks, cursor:p1Cursor, tooltip:p1Tooltip, legend:p1Legend});

drawPanel({id:2, x0:606, x1:1188, y0:12, y1:394, base:347, yTop:106, yDomain:[0,400], gridN:4,
  xDomain:[-0.14,200], pDomain:[0,10], pTop:213.5, gradTop:109, tickY:355.6, fs:7.5,
  title:{text:"uidation", x:606, y:33, fs:8.5},
  legend:{y:90, fs:7.8, sq:5, pos:[[845,853.5],[894,902.5]]},
  nav:{y0:360, y1:393, sel:0},
  tip:{x:763, y:243, w:132, h:62, tx:771, ty:258, rows:[277,291], dx:774, lx:780, vx:888, fs:8.8}},
  {oi:p2OI, price:p2Price, ticks:p2Ticks, cursor:p2Cursor, tooltip:p2Tooltip, legend:p2Legend, nav:p2Nav});

drawPanel({id:3, x0:12, x1:595, y0:406, y1:782, base:730, yTop:453.5, yDomain:[0,7], gridN:7,
  xDomain:[-0.29,118.9], pDomain:[20,50], pTop:510.4, barW:3.6, tickY:740, fs:8, hlPad:6,
  legend:{y:433.7, fs:8, sq:5.7, pos:[[38.3,48.5],[100,109.5]]},
  nav:{y0:745, y1:782, sel:0.135},
  tip:{x:315, y:691, w:136, h:63, tx:325, ty:709, rows:[731.7,746.7], dx:328, lx:334, vx:440.6, fs:10}},
  {bars:p3Volume, price:p3Price, ticks:p3Ticks, cursor:p3Cursor, tooltip:p3Tooltip, legend:p3Legend, nav:p3Nav});

drawPanel({id:4, x0:606, x1:1188, y0:406, y1:781, base:741.7, yTop:499.9, yDomain:[0,3], gridN:6,
  xDomain:[-0.05,136.6], pDomain:[20.2,50.2], pTop:546.7, gradTop:592, tickY:750, fs:7.5,
  legend:{y:482, fs:7.8, sq:5, pos:[[749.4,757.5],[803,811.5]]},
  nav:{y0:755, y1:781, sel:0.351},
  tip:{x:1000, y:577, w:125, h:61, tx:1009, ty:591, rows:[610.7,624], dx:1012.6, lx:1017.6, vx:1115.3, fs:9}},
  {oi:p4OI, price:p4Price, ticks:p4Ticks, cursor:p4Cursor, tooltip:p4Tooltip, legend:p4Legend, nav:p4Nav});

drawPanel({id:5, x0:12, x1:595, y0:798, y1:1183, base:1130.7, yTop:904.7, yDomain:[0,1000], gridN:5,
  xDomain:[0.18,136.0], pDomain:[1.35,11.35], pTop:862.7, barW:3.1, tickY:1139, fs:7, stripe:true,
  legend:{y:889, fs:6.6, sq:4.8, pos:[[89.3,97.5],[134.9,142.8]]},
  nav:{y0:1143, y1:1177, sel:0.206},
  watermark:{x:566, y:1117},
  tip:{x:400, y:1033, w:111.5, h:52, tx:408, ty:1043.3, rows:[1061,1074], dx:410, lx:415.7, vx:503.8, fs:8.3}},
  {bars:p5Volume, price:p5Price, ticks:p5Ticks, cursor:p5Cursor, tooltip:p5Tooltip, legend:p5Legend, nav:p5Nav});

drawPanel({id:6, x0:606, x1:1188, y0:794, y1:1188, base:1157.7, yTop:887.8, yDomain:[0,80], gridN:4,
  xDomain:[0.69,113.7], pDomain:[1.41,11.41], pTop:834.7, gradTop:906, tickY:1166.7, fs:8.3,
  legend:{y:869, fs:9, sq:5.8, pos:[[644,653.5],[698.5,708]]},
  nav:{y0:1173, y1:1188, sel:0.167, noHandle:true},
  tip:{x:1023.4, y:1048.3, w:144.8, h:70, tx:1033.7, ty:1066, rows:[1087.3,1102.3], dx:1036.8, lx:1042.5, vx:1158.6, fs:10}},
  {oi:p6OI, price:p6Price, ticks:p6Ticks, cursor:p6Cursor, tooltip:p6Tooltip, legend:p6Legend});
</script>
</body></html>
